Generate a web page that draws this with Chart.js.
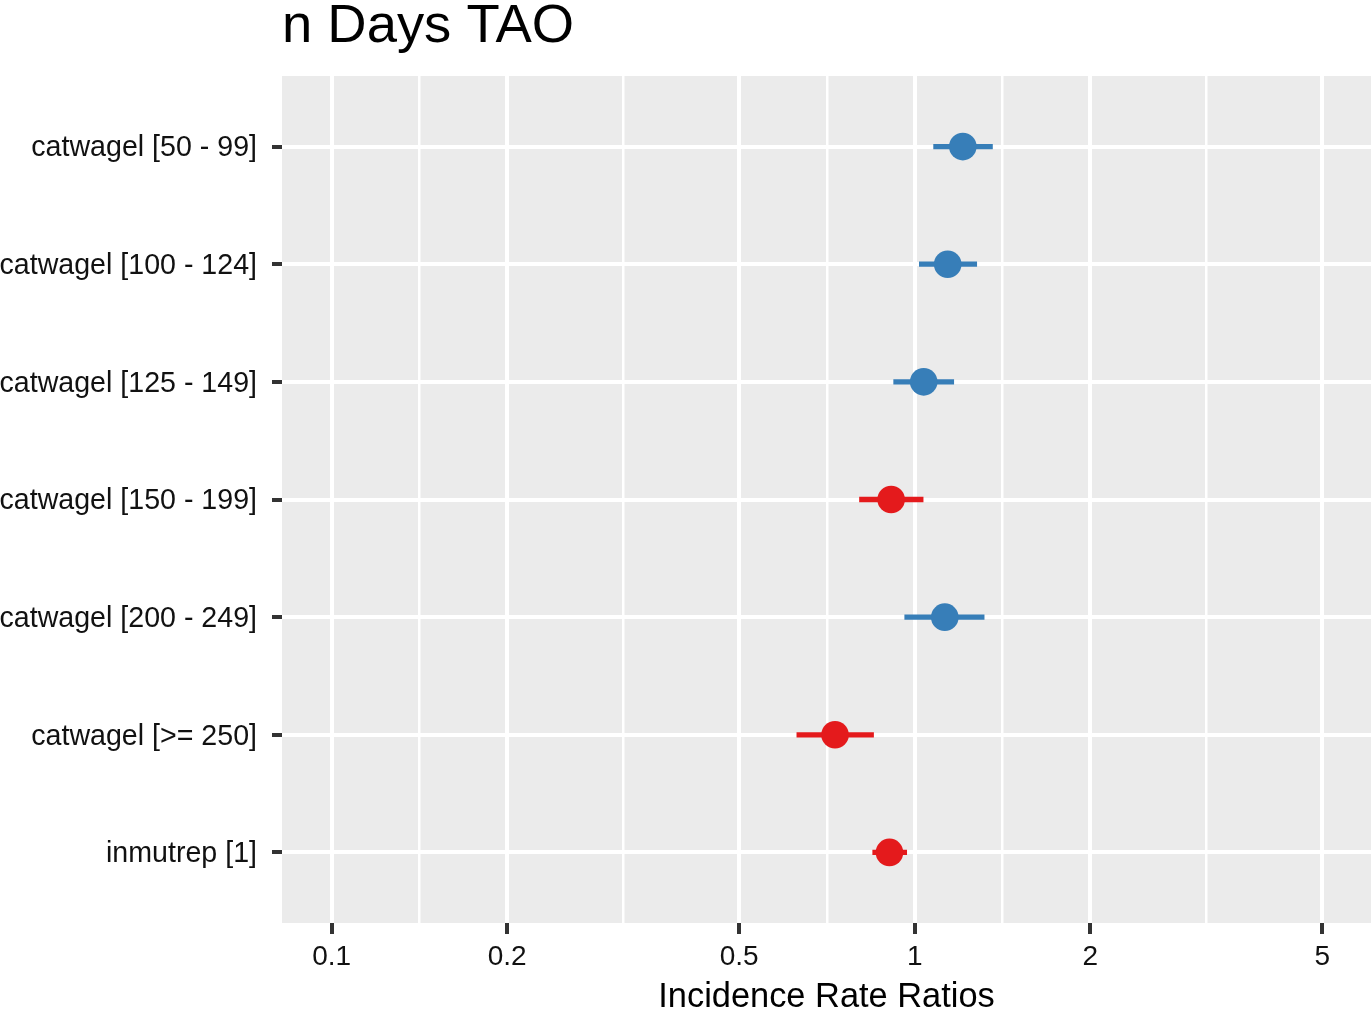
<!DOCTYPE html>
<html><head><meta charset="utf-8">
<script src="https://cdn.jsdelivr.net/npm/chart.js@4/dist/chart.umd.min.js"></script>
<style>html,body{margin:0;padding:0;background:#fff}</style>
</head><body>
<canvas id="c" width="1371" height="1009"></canvas>
<script>
const chartTitle = 'n Days TAO';
const xAxisTitle = 'Incidence Rate Ratios';
const categories = ['catwagel [50 - 99]', 'catwagel [100 - 124]', 'catwagel [125 - 149]', 'catwagel [150 - 199]', 'catwagel [200 - 249]', 'catwagel [>= 250]', 'inmutrep [1]'];
const irr    = [1.209, 1.139, 1.036, 0.911, 1.126, 0.730, 0.905];
const ciLow  = [1.076, 1.017, 0.919, 0.803, 0.960, 0.627, 0.846];
const ciHigh = [1.361, 1.279, 1.168, 1.035, 1.317, 0.851, 0.970];
const majorTicks = [0.1, 0.2, 0.5, 1, 2, 5];
const xMin = 0.0822, xMax = 6.06;

const BLUE = '#377EB8', RED = '#E41A1C';
const FONT = '"Liberation Sans", Arial, Helvetica, sans-serif';
const colorFor = i => irr[i] < 1 ? RED : BLUE;

const minorTicks = [];
for (let i = 0; i < majorTicks.length - 1; i++) minorTicks.push(Math.sqrt(majorTicks[i] * majorTicks[i + 1]));

const datasets = [{
  label: 'IRR',
  data: categories.map((c, i) => ({x: irr[i], y: i})),
  pointBackgroundColor: ctx => colorFor(ctx.dataIndex),
  pointBorderWidth: 0,
  pointBorderColor: 'rgba(0,0,0,0)',
  pointRadius: 13.8,
  pointHoverRadius: 13.8,
  showLine: false,
  order: 0
}];
categories.forEach((c, i) => {
  datasets.push({
    label: 'CI ' + c,
    data: [{x: ciLow[i], y: i}, {x: ciHigh[i], y: i}],
    showLine: true,
    borderColor: colorFor(i),
    borderWidth: 5.3,
    borderCapStyle: 'butt',
    pointRadius: 0,
    pointHoverRadius: 0,
    order: 1
  });
});

const panelPlugin = {
  id: 'panel',
  beforeDraw(chart) {
    const {ctx, chartArea: a} = chart;
    ctx.save();
    ctx.fillStyle = '#fff';
    ctx.fillRect(0, 0, chart.width, chart.height);
    ctx.fillStyle = '#EBEBEB';
    ctx.fillRect(a.left, a.top, a.right - a.left, a.bottom - a.top);
    ctx.restore();
  },
  afterDraw(chart) {
    const {ctx, chartArea: a} = chart;
    ctx.save();
    ctx.fillStyle = '#000';
    ctx.font = '54.4px ' + FONT;
    ctx.textAlign = 'left';
    ctx.textBaseline = 'alphabetic';
    ctx.fillText(chartTitle, a.left, 42);
    ctx.restore();
  }
};

new Chart(document.getElementById('c'), {
  type: 'scatter',
  data: {datasets},
  plugins: [panelPlugin],
  options: {
    responsive: false,
    animation: false,
    devicePixelRatio: 1,
    layout: {padding: {top: 76, left: 0, right: 0, bottom: 0}, autoPadding: false},
    plugins: {legend: {display: false}, tooltip: {enabled: false}, title: {display: false}},
    scales: {
      x: {
        type: 'logarithmic',
        position: 'bottom',
        min: xMin, max: xMax,
        afterBuildTicks: s => {
          s.ticks = majorTicks.map(v => ({value: v, isMinor: false}))
            .concat(minorTicks.map(v => ({value: v, isMinor: true})))
            .sort((a, b) => a.value - b.value);
        },
        afterFit: s => { s.height = 86; s.paddingLeft = 0; s.paddingRight = 0; },
        ticks: {
          autoSkip: false, maxRotation: 0, minRotation: 0,
          padding: 6,
          color: '#111',
          font: {family: FONT, size: 28},
          callback: (v, i, t) => t[i].isMinor ? '' : String(v)
        },
        grid: {
          color: '#fff',
          lineWidth: ctx => (ctx.tick && ctx.tick.isMinor) ? 2.5 : 4,
          tickColor: ctx => (ctx.tick && ctx.tick.isMinor) ? 'rgba(0,0,0,0)' : '#333',
          tickWidth: 4,
          tickLength: 11,
          drawTicks: true
        },
        border: {display: false},
        title: {
          display: true, text: xAxisTitle, color: '#000',
          font: {family: FONT, size: 34.4, lineHeight: 1},
          padding: {top: 0, bottom: -6}
        }
      },
      y: {
        type: 'linear',
        reverse: true,
        min: -0.6, max: categories.length - 1 + 0.6,
        afterBuildTicks: s => { s.ticks = categories.map((c, i) => ({value: i})); },
        afterFit: s => { s.width = 282; s.paddingTop = 0; s.paddingBottom = 0; },
        ticks: {
          autoSkip: false,
          padding: 15,
          labelOffset: 2,
          color: '#111',
          font: {family: FONT, size: 28.6},
          callback: v => categories[v]
        },
        grid: {
          color: '#fff', lineWidth: 4,
          tickColor: '#333', tickWidth: 4, tickLength: 10
        },
        border: {display: false}
      }
    }
  }
});
</script>
</body></html>
